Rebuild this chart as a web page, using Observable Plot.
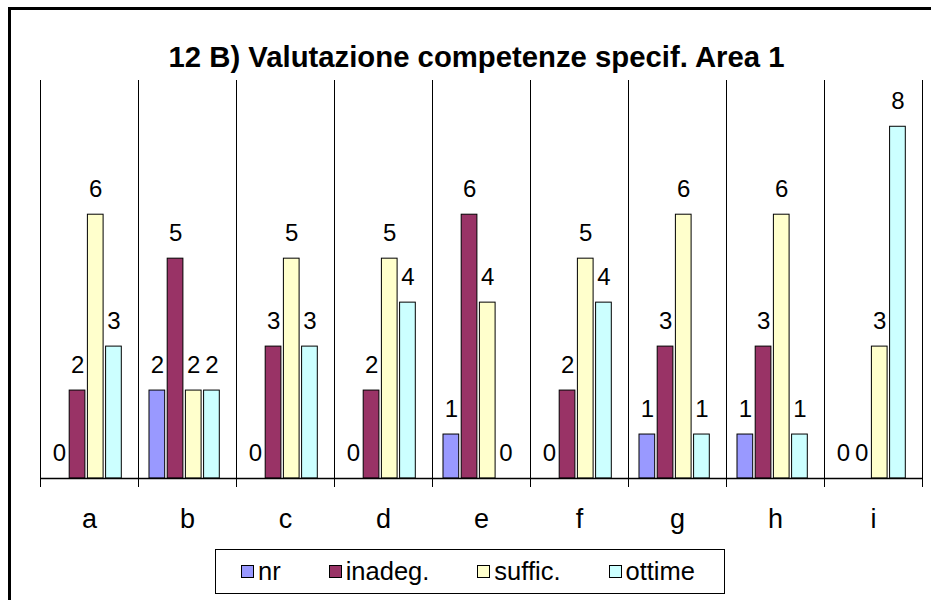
<!DOCTYPE html>
<html><head><meta charset="utf-8">
<script src="https://cdn.jsdelivr.net/npm/d3@7"></script>
<script src="https://cdn.jsdelivr.net/npm/@observablehq/plot@0.6"></script>
<style>
html,body{margin:0;padding:0;background:#fff;overflow:hidden;width:931px;height:600px;}
body{position:relative;font-family:"Liberation Sans",Arial,sans-serif;color:#000;}
#border{position:absolute;left:8px;top:7px;width:1000px;height:1000px;border-left:3px solid #000;border-top:3px solid #000;}
#title{position:absolute;left:0;top:42px;width:953px;text-align:center;font-weight:bold;font-size:29.3px;line-height:29px;white-space:nowrap;}
#chart{position:absolute;left:0;top:0;}
#legend{position:absolute;left:215px;top:549px;width:510px;height:45px;box-sizing:border-box;border:1.5px solid #000;display:flex;align-items:center;padding-left:25px;font-size:25.5px;background:#fff;}
.item{display:flex;align-items:center;margin-right:48px;}
.sw{width:13px;height:13px;box-sizing:border-box;border:1.5px solid #000;margin-right:4px;flex:none;}
</style></head>
<body>
<div id="border"></div>
<div id="chart"></div>
<div id="title">12 B) Valutazione competenze specif. Area 1</div>
<div id="legend"></div>
<script>
const categories = ["a","b","c","d","e","f","g","h","i"];
const seriesNames = ["nr","inadeg.","suffic.","ottime"];
const seriesColors = ["#9999FF","#993366","#FFFFCC","#CCFFFF"];
const nr      = [0,2,0,0,1,0,1,1,0];
const inadeg  = [2,5,3,2,6,2,3,3,0];
const suffic  = [6,2,5,5,4,5,6,6,3];
const ottime  = [3,2,3,4,0,4,1,1,8];

const seriesValues = [nr, inadeg, suffic, ottime];
const data = [];
categories.forEach((c, i) => {
  seriesNames.forEach((s, k) => data.push({cat: c, series: s, value: seriesValues[k][i]}));
});

const chart = Plot.plot({
  width: 931,
  height: 540,
  marginLeft: 40,
  marginRight: 9,
  marginTop: 80,
  marginBottom: 54,
  style: {background: "transparent", fontFamily: "'Liberation Sans', Arial, sans-serif", color: "#000", overflow: "visible"},
  fx: {domain: categories, padding: 0, round: false, label: null},
  x: {domain: seriesNames, axis: null, round: false, paddingInner: 0.137, paddingOuter: 0.761, align: 0.397},
  y: {domain: [-8/44, (478.3-80)/44], axis: null},
  color: {domain: seriesNames, range: seriesColors},
  marks: [
    Plot.axisFx({anchor: "bottom", tickSize: 0, tickPadding: 22, fontSize: 27, label: null}),
    Plot.frame({anchor: "left", stroke: "#000"}),
    Plot.frame({anchor: "right", stroke: "#000"}),
    Plot.barY(data.filter(d => d.value > 0), {fx: "cat", x: "series", y: "value", fill: "series", stroke: "#000", strokeWidth: 1}),
    Plot.ruleY([0], {stroke: "#000", strokeWidth: 1.5}),
    Plot.text(data, {fx: "cat", x: "series", y: "value", text: d => String(d.value), lineAnchor: "bottom", dy: -18, fontSize: 24, fill: "#000"})
  ]
});
document.getElementById("chart").appendChild(chart);

const legend = d3.select("#legend");
seriesNames.forEach((s, k) => {
  const it = legend.append("div").attr("class", "item");
  it.append("div").attr("class", "sw").style("background", seriesColors[k]);
  it.append("span").text(s);
});
</script>
</body></html>
